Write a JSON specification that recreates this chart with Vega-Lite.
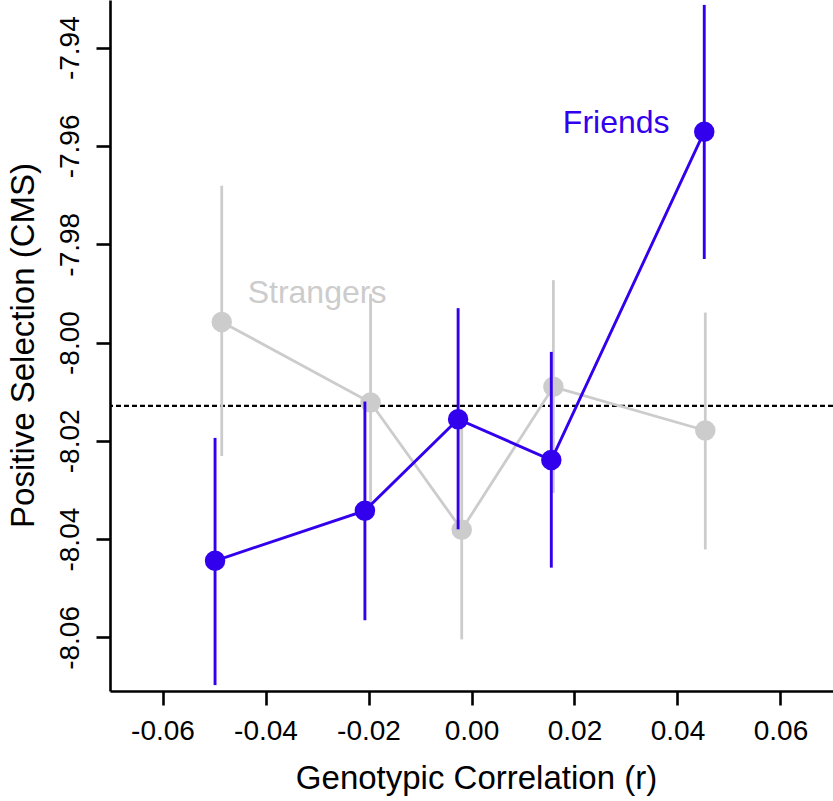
{
  "$schema": "https://vega.github.io/schema/vega-lite/v6.json",
  "autosize": {"type": "none"},
  "padding": {"left": 110, "top": 0, "right": 0, "bottom": 110},
  "width": 723,
  "height": 691,
  "background": "white",
  "config": {
    "view": {"stroke": null},
    "font": "Liberation Sans",
    "axis": {
      "grid": false,
      "domainColor": "black",
      "domainWidth": 2.6,
      "tickColor": "black",
      "tickWidth": 2.6,
      "tickSize": 14,
      "labelColor": "black",
      "labelFontSize": 28,
      "labelFont": "Liberation Sans",
      "titleColor": "black",
      "titleFont": "Liberation Sans",
      "titleFontWeight": "normal"
    }
  },
  "datasets": {
    "pts": [
      {"group": "Strangers", "r": -0.0485, "cms": -7.9958, "lo": -8.0231, "hi": -7.9681},
      {"group": "Strangers", "r": -0.0196, "cms": -8.0122, "lo": -8.0343, "hi": -7.9901},
      {"group": "Strangers", "r": -0.0019, "cms": -8.0381, "lo": -8.0604, "hi": -8.0160},
      {"group": "Strangers", "r": 0.0159, "cms": -8.0090, "lo": -8.0306, "hi": -7.9873},
      {"group": "Strangers", "r": 0.0454, "cms": -8.0179, "lo": -8.0421, "hi": -7.9939},
      {"group": "Friends", "r": -0.0498, "cms": -8.0444, "lo": -8.0697, "hi": -8.0194},
      {"group": "Friends", "r": -0.0207, "cms": -8.0342, "lo": -8.0565, "hi": -8.0120},
      {"group": "Friends", "r": -0.0026, "cms": -8.0156, "lo": -8.0380, "hi": -7.9930},
      {"group": "Friends", "r": 0.0155, "cms": -8.0239, "lo": -8.0458, "hi": -8.0019},
      {"group": "Friends", "r": 0.0452, "cms": -7.9571, "lo": -7.9830, "hi": -7.9313}
    ],
    "labels": [
      {"group": "Friends", "r": 0.0281, "cms": -7.9574},
      {"group": "Strangers", "r": -0.0300, "cms": -7.9919}
    ],
    "ref": [{"cms": -8.0129}]
  },
  "layer": [
    {
      "data": {"name": "pts"},
      "mark": {"type": "point", "opacity": 0},
      "encoding": {
        "x": {
          "field": "r",
          "type": "quantitative",
          "scale": {"domain": [-0.0702, 0.0702], "nice": false, "zero": false},
          "axis": {
            "title": "Genotypic Correlation (r)",
            "titleFontSize": 33,
            "titleX": 366,
            "titleY": 97,
            "titleBaseline": "alphabetic",
            "titleAlign": "center",
            "values": [-0.06, -0.04, -0.02, 0, 0.02, 0.04, 0.06],
            "labelExpr": "replace(format(datum.value, '.2f'), '\u2212', '-')",
            "labelBaseline": "alphabetic",
            "labelPadding": 34,
            "labelFlush": false,
            "labelOverlap": false
          }
        },
        "y": {
          "field": "cms",
          "type": "quantitative",
          "scale": {"domain": [-8.0709, -7.9303], "nice": false, "zero": false},
          "axis": {
            "title": "Positive Selection (CMS)",
            "titleFontSize": 33,
            "titleAngle": 270,
            "titleX": -77,
            "titleY": 345,
            "titleBaseline": "alphabetic",
            "titleAlign": "center",
            "values": [-8.06, -8.04, -8.02, -8.0, -7.98, -7.96, -7.94],
            "labelExpr": "replace(format(datum.value, '.2f'), '\u2212', '-')",
            "labelAngle": 270,
            "labelAlign": "center",
            "labelBaseline": "alphabetic",
            "labelPadding": 18,
            "labelFlush": false,
            "labelOverlap": false
          }
        }
      }
    },
    {
      "data": {"name": "ref"},
      "mark": {"type": "rule", "color": "black", "strokeWidth": 2.3, "strokeDash": [5, 3]},
      "encoding": {"y": {"field": "cms", "type": "quantitative"}}
    },
    {
      "data": {"name": "pts"},
      "transform": [{"filter": "datum.group == 'Strangers'"}],
      "layer": [
        {
          "mark": {"type": "rule", "color": "#CCCCCC", "strokeWidth": 2.8},
          "encoding": {
            "x": {"field": "r", "type": "quantitative"},
            "y": {"field": "lo", "type": "quantitative"},
            "y2": {"field": "hi"}
          }
        },
        {
          "mark": {"type": "line", "color": "#CCCCCC", "strokeWidth": 2.8},
          "encoding": {
            "x": {"field": "r", "type": "quantitative"},
            "y": {"field": "cms", "type": "quantitative"}
          }
        },
        {
          "mark": {"type": "circle", "color": "#CCCCCC", "size": 420, "opacity": 1},
          "encoding": {
            "x": {"field": "r", "type": "quantitative"},
            "y": {"field": "cms", "type": "quantitative"}
          }
        }
      ]
    },
    {
      "data": {"name": "pts"},
      "transform": [{"filter": "datum.group == 'Friends'"}],
      "layer": [
        {
          "mark": {"type": "rule", "color": "#3300EE", "strokeWidth": 2.9},
          "encoding": {
            "x": {"field": "r", "type": "quantitative"},
            "y": {"field": "lo", "type": "quantitative"},
            "y2": {"field": "hi"}
          }
        },
        {
          "mark": {"type": "line", "color": "#3300EE", "strokeWidth": 2.9},
          "encoding": {
            "x": {"field": "r", "type": "quantitative"},
            "y": {"field": "cms", "type": "quantitative"}
          }
        },
        {
          "mark": {"type": "circle", "color": "#3300EE", "size": 420, "opacity": 1},
          "encoding": {
            "x": {"field": "r", "type": "quantitative"},
            "y": {"field": "cms", "type": "quantitative"}
          }
        }
      ]
    },
    {
      "data": {"name": "labels"},
      "mark": {"type": "text", "fontSize": 32, "align": "center", "baseline": "alphabetic", "font": "Liberation Sans"},
      "encoding": {
        "x": {"field": "r", "type": "quantitative"},
        "y": {"field": "cms", "type": "quantitative"},
        "text": {"field": "group", "type": "nominal"},
        "color": {
          "field": "group",
          "type": "nominal",
          "scale": {"domain": ["Friends", "Strangers"], "range": ["#3300EE", "#CCCCCC"]},
          "legend": null
        }
      }
    }
  ]
}
